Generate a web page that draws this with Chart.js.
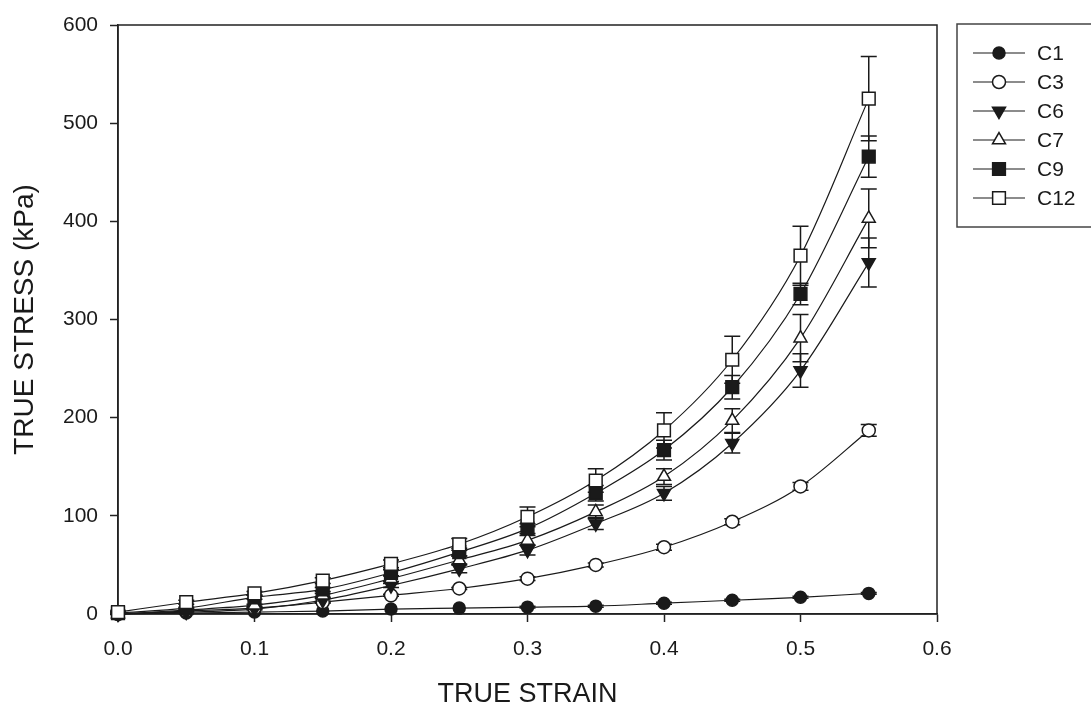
<!DOCTYPE html>
<html>
<head>
<meta charset="utf-8">
<script src="https://cdn.jsdelivr.net/npm/chart.js@4/dist/chart.umd.min.js"></script>
<style>
  html, body { margin: 0; padding: 0; background: #fff; }
  #wrap { width: 1091px; height: 708px; }
</style>
</head>
<body>
<div id="wrap"><canvas id="chart"></canvas></div>
<script>
// strain steps
const strain = [0, 0.05, 0.1, 0.15, 0.2, 0.25, 0.3, 0.35, 0.4, 0.45, 0.5, 0.55];

// mean true stress (kPa) per sample
const c1 = [0, 1, 2, 3, 5, 6, 7, 8, 11, 14, 17, 21];
const c3 = [0, 3, 6, 12, 19, 26, 36, 50, 68, 94, 130, 187];
const c6 = [0, 2, 5, 14, 29, 46, 65, 92, 123, 174, 248, 358];
const c7 = [0, 4, 9, 19, 36, 55, 75, 104, 140, 197, 281, 403];
const c9 = [1, 6, 17, 25, 42, 63, 87, 123, 167, 231, 326, 466];
const c12 = [2, 12, 21, 34, 51, 71, 99, 136, 187, 259, 365, 525];

// standard deviations
const c1Err = [0, 0, 0, 0, 0, 0, 1, 1, 1, 1, 1, 1];
const c3Err = [0, 0, 1, 1, 1, 1, 2, 2, 3, 3, 4, 6];
const c6Err = [0, 1, 1, 2, 2, 4, 5, 6, 7, 10, 17, 25];
const c7Err = [0, 1, 1, 2, 3, 4, 5, 7, 8, 12, 24, 30];
const c9Err = [1, 1, 2, 2, 3, 4, 5, 8, 10, 12, 11, 21];
const c12Err = [1, 2, 2, 3, 4, 6, 10, 12, 18, 24, 30, 43];

const yTicks = [0, 100, 200, 300, 400, 500, 600];
const xTicks = [0, 0.1, 0.2, 0.3, 0.4, 0.5, 0.6];

const INK = "#1a1a1a";
const FONT = "'Liberation Sans', Arial, sans-serif";

function series(label, values, errs, style, filled, radius, rotation, order) {
  return {
    label: label,
    data: strain.map((x, i) => ({ x: x, y: values[i] })),
    errors: errs,
    borderColor: INK,
    borderWidth: 1.2,
    pointStyle: style,
    pointRotation: rotation,
    pointRadius: radius,
    pointBorderWidth: 1.5,
    pointBorderColor: INK,
    pointBackgroundColor: filled ? INK : "#fff",
    cubicInterpolationMode: "monotone",
    clip: false,
    order: order,
  };
}

const datasets = [
  series("C1", c1, c1Err, "circle", true, 6, 0, 6),
  series("C3", c3, c3Err, "circle", false, 6.5, 0, 5),
  series("C6", c6, c6Err, "triangle", true, 7.5, 180, 4),
  series("C7", c7, c7Err, "triangle", false, 7.5, 0, 3),
  series("C9", c9, c9Err, "rect", true, 9, 0, 2),
  series("C12", c12, c12Err, "rect", false, 9, 0, 1),
];

// vertical error bars with caps, under the markers
const errorBars = {
  id: "errorBars",
  beforeDatasetsDraw(chart) {
    const ctx = chart.ctx;
    const xs = chart.scales.x;
    const ys = chart.scales.y;
    ctx.save();
    ctx.strokeStyle = INK;
    ctx.lineWidth = 1.5;
    chart.data.datasets.forEach((ds) => {
      ds.data.forEach((p, i) => {
        const e = ds.errors[i];
        if (!e) return;
        const px = xs.getPixelForValue(p.x);
        const top = ys.getPixelForValue(p.y + e);
        const bot = ys.getPixelForValue(p.y - e);
        ctx.beginPath();
        ctx.moveTo(px, top);
        ctx.lineTo(px, bot);
        ctx.moveTo(px - 8, top);
        ctx.lineTo(px + 8, top);
        ctx.moveTo(px - 8, bot);
        ctx.lineTo(px + 8, bot);
        ctx.stroke();
      });
    });
    ctx.restore();
  },
};

// box round the plot, plus the boxed legend on the right
const frameAndLegend = {
  id: "frameAndLegend",
  beforeDatasetsDraw(chart) {
    const { ctx, chartArea: a } = chart;
    ctx.save();
    ctx.strokeStyle = "#222";
    ctx.lineWidth = 1.5;
    ctx.strokeRect(a.left, a.top, a.right - a.left, a.bottom - a.top);
    ctx.restore();
  },
  afterDraw(chart) {
    const ctx = chart.ctx;
    ctx.save();
    ctx.strokeStyle = "#444";
    ctx.lineWidth = 1.5;
    ctx.strokeRect(957, 24, 160, 203);

    const rowY = [53, 82, 111, 140, 169, 198];
    chart.data.datasets.forEach((ds, i) => {
      const y = rowY[i];
      ctx.strokeStyle = INK;
      ctx.lineWidth = 1.2;
      ctx.beginPath();
      ctx.moveTo(973, y);
      ctx.lineTo(1025, y);
      ctx.stroke();

      ctx.fillStyle = ds.pointBackgroundColor;
      ctx.strokeStyle = INK;
      ctx.lineWidth = 1.5;
      Chart.helpers.drawPoint(ctx, {
        pointStyle: ds.pointStyle,
        rotation: ds.pointRotation,
        radius: ds.pointRadius,
        borderWidth: 1.5,
      }, 999, y);

      ctx.fillStyle = INK;
      ctx.font = "21px " + FONT;
      ctx.textBaseline = "middle";
      ctx.textAlign = "left";
      ctx.fillText(ds.label, 1037, y + 1);
    });
    ctx.restore();
  },
};

const tickFont = { family: FONT, size: 21 };

new Chart(document.getElementById("chart"), {
  type: "line",
  data: { datasets: datasets },
  options: {
    responsive: true,
    maintainAspectRatio: false,
    animation: false,
    events: [],
    layout: { padding: { left: 0, right: 154, top: 25, bottom: 0 } },
    plugins: {
      legend: { display: false },
      tooltip: { enabled: false },
    },
    scales: {
      x: {
        type: "linear",
        min: 0,
        max: 0.6,
        afterBuildTicks: (scale) => {
          scale.ticks = xTicks.map((v) => ({ value: v }));
        },
        afterFit: (scale) => {
          scale.height = 94;
        },
        ticks: {
          color: INK,
          font: tickFont,
          padding: 15,
          maxRotation: 0,
          callback: (v) => v.toFixed(1),
        },
        grid: {
          drawOnChartArea: false,
          tickLength: 8,
          tickColor: "#222",
          tickWidth: 1.5,
        },
        border: { color: "#222", width: 1.5 },
        title: {
          display: true,
          text: "TRUE STRAIN",
          color: INK,
          font: { family: FONT, size: 27, lineHeight: 1 },
          padding: { top: 0, bottom: 0 },
        },
      },
      y: {
        type: "linear",
        min: 0,
        max: 600,
        afterBuildTicks: (scale) => {
          scale.ticks = yTicks.map((v) => ({ value: v }));
        },
        afterFit: (scale) => {
          scale.width = 118;
        },
        ticks: {
          color: INK,
          font: tickFont,
          padding: 12,
        },
        grid: {
          drawOnChartArea: false,
          tickLength: 8,
          tickColor: "#222",
          tickWidth: 1.5,
        },
        border: { color: "#222", width: 1.5 },
        title: {
          display: true,
          text: "TRUE STRESS (kPa)",
          color: INK,
          font: { family: FONT, size: 28, lineHeight: 1 },
          padding: { top: 11, bottom: 0 },
        },
      },
    },
  },
  plugins: [errorBars, frameAndLegend],
});
</script>
</body>
</html>
